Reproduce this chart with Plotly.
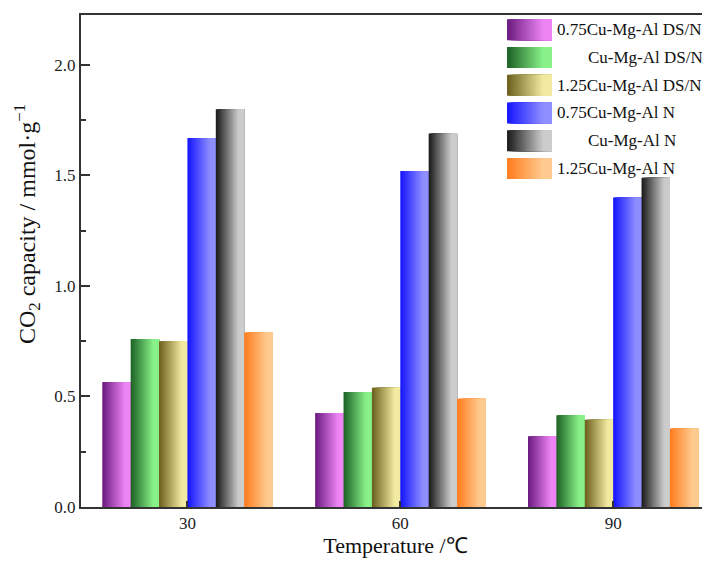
import plotly.graph_objects as go

# ---- data ----
categories = ["30", "60", "90"]
series_names = [
    "0.75Cu-Mg-Al DS/N",
    "Cu-Mg-Al DS/N",
    "1.25Cu-Mg-Al DS/N",
    "0.75Cu-Mg-Al N",
    "Cu-Mg-Al N",
    "1.25Cu-Mg-Al N",
]
v_075_dsn = [0.565, 0.425, 0.32]
v_100_dsn = [0.76, 0.52, 0.415]
v_125_dsn = [0.75, 0.54, 0.395]
v_075_n = [1.67, 1.52, 1.40]
v_100_n = [1.80, 1.69, 1.49]
v_125_n = [0.79, 0.49, 0.355]
series_values = [v_075_dsn, v_100_dsn, v_125_dsn, v_075_n, v_100_n, v_125_n]
y_ticks = [0.0, 0.5, 1.0, 1.5, 2.0]

# ---- styles (gradient dark -> light, left -> right) ----
grad = [
    ((0x6a, 0x1a, 0x7e), (0xec, 0x84, 0xf4)),
    ((0x1c, 0x60, 0x24), (0x88, 0xf2, 0x88)),
    ((0x6a, 0x5e, 0x1c), (0xf2, 0xea, 0xa0)),
    ((0x14, 0x14, 0xff), (0x8e, 0x8e, 0xff)),
    ((0x18, 0x18, 0x18), (0xcc, 0xcc, 0xcc)),
    ((0xff, 0x7c, 0x1c), (0xff, 0xca, 0x90)),
]
indent = [0, 31, 0, 0, 31, 0]
N = 20
FONT = "Liberation Serif"
AX = "#333333"


def mix(c0, c1, t):
    t = min(1.0, t / 0.8)
    return "rgb(%d,%d,%d)" % tuple(round(a + (b - a) * t) for a, b in zip(c0, c1))


n_series = len(series_names)
group_w = 0.8
bar_w = group_w / n_series
s = bar_w / N

fig = go.Figure()

# main bars, each drawn as N overlapping slices for a horizontal gradient
for j, (name, vals) in enumerate(zip(series_names, series_values)):
    c0, c1 = grad[j]
    start = -group_w / 2 + j * bar_w
    for i in range(N):
        fig.add_trace(go.Bar(
            x=categories, y=vals,
            offset=start + i * s, width=(N - i) * s,
            marker=dict(color=mix(c0, c1, (i + 0.5) / N), line=dict(width=0)),
            name=name, showlegend=False, hoverinfo="skip" if i else "x+y+name",
        ))

# custom legend with gradient swatches on a hidden axis pair
rows = list(range(n_series))
for j, name in enumerate(series_names):
    c0, c1 = grad[j]
    for i in range(N):
        fig.add_trace(go.Bar(
            y=[rows[j]], x=[(N - i) / N], base=[i / N], orientation="h",
            width=0.76, xaxis="x2", yaxis="y2",
            marker=dict(color=mix(c0, c1, (i + 0.5) / N), line=dict(width=0)),
            showlegend=False, hoverinfo="skip",
        ))
    fig.add_annotation(
        x=1, y=rows[j], xref="x2", yref="y2", text=name, showarrow=False,
        xanchor="left", yanchor="middle", xshift=3 + indent[j],
        font=dict(family=FONT, size=17, color="#111111"),
    )

fig.update_layout(
    width=702, height=553,
    margin=dict(l=73, r=0, t=7, b=54),
    paper_bgcolor="white", plot_bgcolor="white",
    barmode="overlay",
    showlegend=False,
    font=dict(family=FONT, color="#222222"),
    xaxis=dict(
        type="category", categoryorder="array", categoryarray=categories,
        range=[-0.5, 2.455],
        showline=True, linecolor=AX, linewidth=2, mirror=True,
        ticks="inside", ticklen=6, tickcolor=AX, tickwidth=1.5,
        tickfont=dict(family=FONT, size=17, color="#222222"),
        showgrid=False, zeroline=False,
        title=dict(text="Temperature /\u2103", font=dict(family=FONT, size=22, color="#111111"), standoff=2),
    ),
    yaxis=dict(
        range=[0, 2.226], tickvals=y_ticks, tickformat=".1f",
        showline=True, linecolor=AX, linewidth=2, mirror=False,
        ticks="inside", ticklen=9, tickcolor=AX, tickwidth=1.5,
        minor=dict(dtick=0.25, ticks="inside", ticklen=5, tickcolor=AX, tickwidth=1.5),
        tickfont=dict(family=FONT, size=17, color="#222222"),
        showgrid=False, zeroline=False,
    ),
    xaxis2=dict(domain=[0.6773, 0.7488], range=[0, 1], visible=False, anchor="y2", fixedrange=True),
    yaxis2=dict(domain=[0.660, 0.998], range=[5.5, -0.5], visible=False, anchor="x2", fixedrange=True),
)

fig.add_annotation(
    text="CO<sub>2</sub> capacity / mmol\u00b7g<sup>\u22121</sup>",
    xref="paper", yref="paper", x=-0.0859, y=0.575, textangle=-90,
    showarrow=False, xanchor="center", yanchor="middle",
    font=dict(family=FONT, size=24, color="#111111"),
)

fig.write_html("out.html")
